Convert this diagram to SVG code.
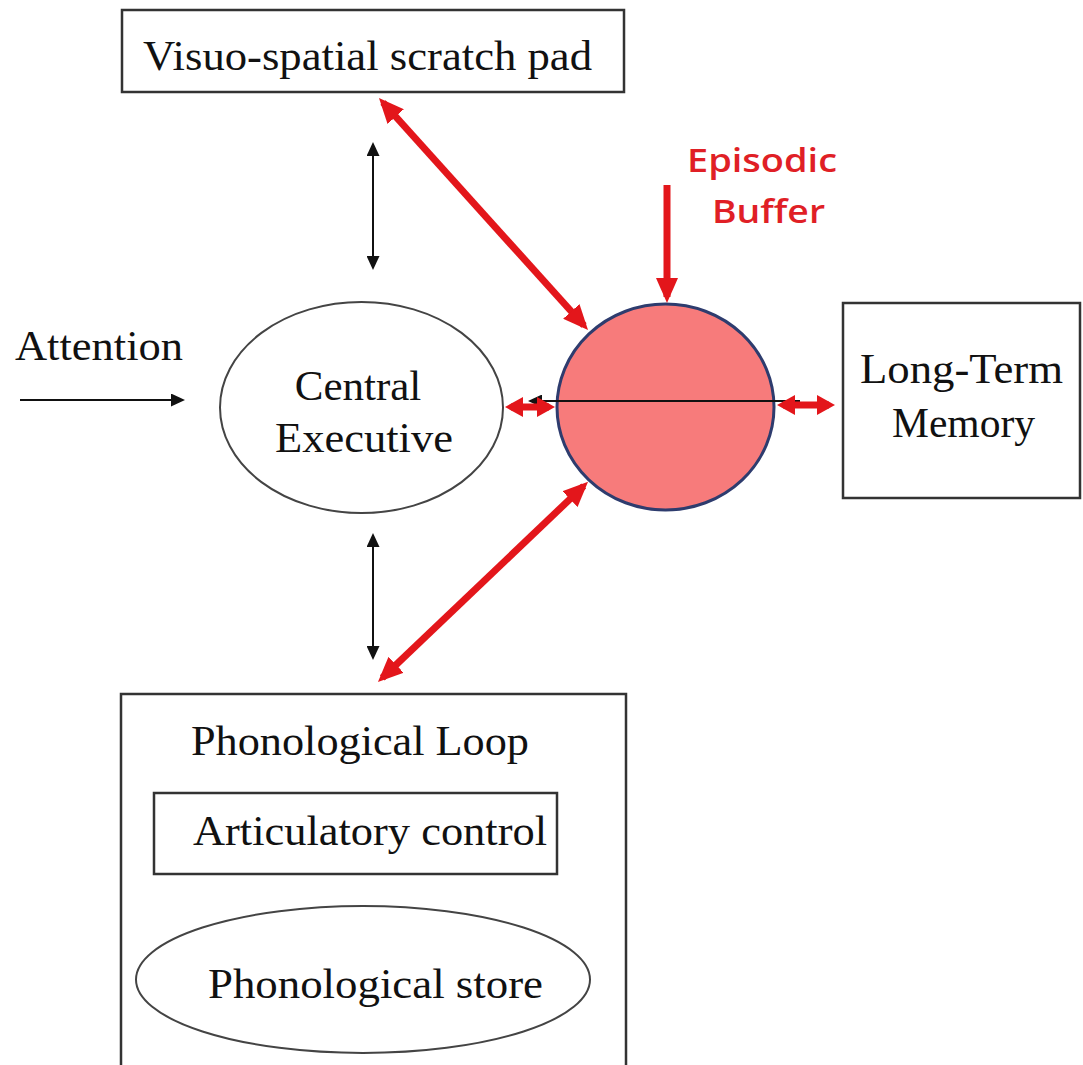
<svg xmlns="http://www.w3.org/2000/svg" width="1083" height="1065" viewBox="0 0 1083 1065">
<style>
.box{fill:#fff;stroke:#333;stroke-width:2.5}
.ell{fill:#fff;stroke:#444;stroke-width:2}
.t{font-family:"Liberation Serif","Times New Roman",serif;font-size:43px;fill:#111}
.red{stroke:#E3161B;stroke-width:7;fill:none}
.blk{stroke:#111;stroke-width:2;fill:none}
.eb{font-family:"Open Sans","Liberation Sans",sans-serif;font-size:33px;font-weight:600;fill:#E01F26}
</style>
<defs>
<marker id="rh" markerUnits="userSpaceOnUse" viewBox="0 0 25 22" markerWidth="25" markerHeight="22" refX="19" refY="11" orient="auto-start-reverse">
<path d="M0,0 L25,11 L0,22 z" fill="#E3161B"/>
</marker>
<marker id="rs" markerUnits="userSpaceOnUse" viewBox="0 0 18 20" markerWidth="18" markerHeight="20" refX="12" refY="10" orient="auto-start-reverse">
<path d="M0,0 L18,10 L0,20 z" fill="#E3161B"/>
</marker>
<marker id="bh" markerUnits="userSpaceOnUse" viewBox="0 0 14 13" markerWidth="14" markerHeight="13" refX="12" refY="6.5" orient="auto-start-reverse">
<path d="M0,0 L14,6.5 L0,13 z" fill="#111"/>
</marker>
</defs>
<rect width="1083" height="1065" fill="#fff"/>

<g id="visuo-spatial">
<rect class="box" x="122" y="10" width="502" height="82"/>
<text class="t" x="143" y="70" textLength="449" lengthAdjust="spacingAndGlyphs">Visuo-spatial scratch pad</text>
</g>

<g id="attention">
<text class="t" x="15" y="360" textLength="168" lengthAdjust="spacingAndGlyphs">Attention</text>
</g>

<g id="central-executive">
<ellipse class="ell" cx="361.5" cy="407.5" rx="141.5" ry="105.5"/>
<text class="t" x="358" y="400" text-anchor="middle">Central</text>
<text class="t" x="275" y="452" textLength="178" lengthAdjust="spacingAndGlyphs">Executive</text>
</g>

<g id="episodic-buffer">
<ellipse cx="665.5" cy="407" rx="108.5" ry="103" fill="#F77B7B" stroke="#2E3C6E" stroke-width="3"/>
<text class="eb" x="687" y="172" textLength="150" lengthAdjust="spacingAndGlyphs">Episodic</text>
<text class="eb" x="712" y="223" textLength="113" lengthAdjust="spacingAndGlyphs">Buffer</text>
</g>

<g id="long-term-memory">
<rect class="box" x="843" y="303" width="237" height="195"/>
<text class="t" x="860" y="383" textLength="203" lengthAdjust="spacingAndGlyphs">Long-Term</text>
<text class="t" x="892" y="437" textLength="143" lengthAdjust="spacingAndGlyphs">Memory</text>
</g>

<g id="phonological-loop">
<rect class="box" x="121" y="694" width="505" height="400"/>
<text class="t" x="191" y="755" textLength="338" lengthAdjust="spacingAndGlyphs">Phonological Loop</text>
</g>

<g id="articulatory-control">
<rect class="box" x="154" y="793" width="403" height="81"/>
<text class="t" x="193" y="845" textLength="354" lengthAdjust="spacingAndGlyphs">Articulatory control</text>
</g>

<g id="phonological-store">
<ellipse class="ell" cx="363" cy="979.5" rx="227" ry="73.5"/>
<text class="t" x="208" y="998" textLength="335" lengthAdjust="spacingAndGlyphs">Phonological store</text>
</g>

<g id="connectors">
<line class="blk" x1="20" y1="400" x2="183" y2="400" marker-end="url(#bh)"/>
<line class="blk" x1="373" y1="144" x2="373" y2="268" marker-start="url(#bh)" marker-end="url(#bh)"/>
<line class="blk" x1="373" y1="535" x2="373" y2="658" marker-start="url(#bh)" marker-end="url(#bh)"/>
<line class="blk" x1="530" y1="401" x2="800" y2="401" stroke-width="2" marker-start="url(#bh)"/>
<line class="red" x1="383" y1="102.5" x2="584" y2="325.5" marker-start="url(#rh)" marker-end="url(#rh)"/>
<line class="red" x1="583.7" y1="486" x2="382.3" y2="677.9" marker-start="url(#rh)" marker-end="url(#rh)"/>
<line class="red" x1="667" y1="185" x2="667" y2="297" stroke-width="6" marker-end="url(#rh)"/>
<line class="red" x1="511" y1="407" x2="549" y2="407" stroke-width="6" marker-start="url(#rs)" marker-end="url(#rs)"/>
<line class="red" x1="783" y1="405" x2="829" y2="405" stroke-width="6" marker-start="url(#rs)" marker-end="url(#rs)"/>
</g>
</svg>
